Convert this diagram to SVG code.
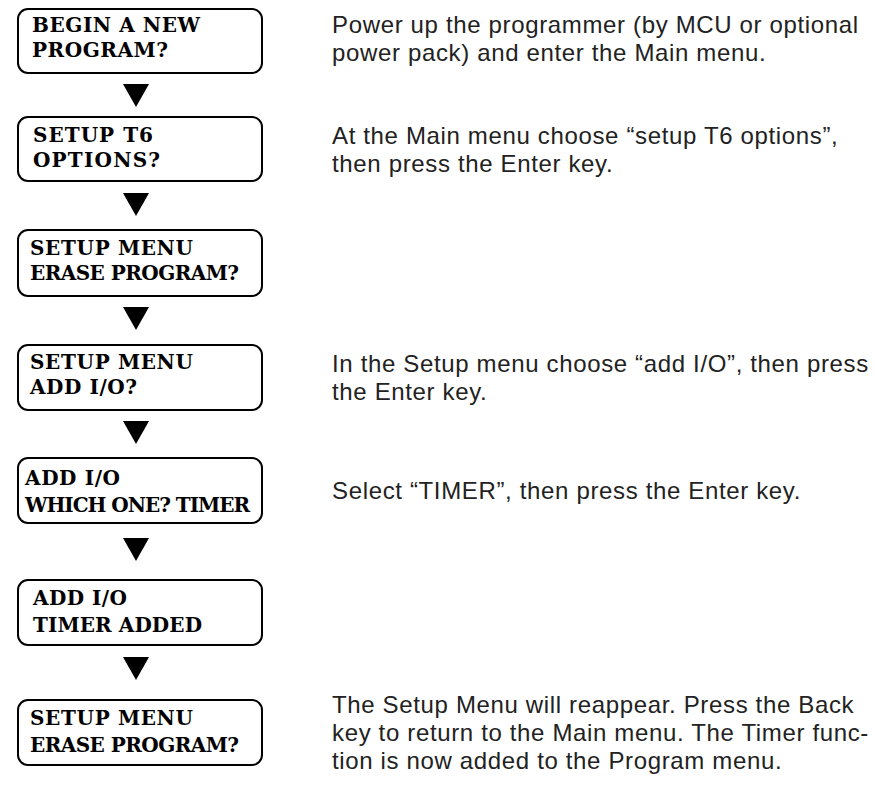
<svg xmlns="http://www.w3.org/2000/svg" width="875" height="786" viewBox="0 0 875 786">
<defs>
<style>
.box{fill:#fff;stroke:#000;stroke-width:2}
.lcd{font-family:"DejaVu Serif","Liberation Serif",serif;font-weight:bold;font-size:20px;fill:#000}
.desc{font-family:"Liberation Sans",Arial,sans-serif;font-size:24px;letter-spacing:0.65px;fill:#222}
.arr{fill:#000}
</style>
</defs>
<rect width="875" height="786" fill="#fff"/>
<g id="connectors">
<polygon class="arr" points="123,84 149,84 136,107"/>
<polygon class="arr" points="123,193 149,193 136,216"/>
<polygon class="arr" points="123,307 149,307 136,330"/>
<polygon class="arr" points="123,421 149,421 136,444"/>
<polygon class="arr" points="123,538 149,538 136,561"/>
<polygon class="arr" points="123,657 149,657 136,680"/>
</g>
<g id="n1"><rect class="box" x="18" y="9" width="244" height="64" rx="10"/>
<text class="lcd" x="32" y="32" textLength="168" lengthAdjust="spacing">BEGIN A NEW</text><text class="lcd" x="32" y="57" textLength="136" lengthAdjust="spacing">PROGRAM?</text></g>
<g id="n2"><rect class="box" x="18" y="117" width="244" height="64" rx="10"/>
<text class="lcd" x="33" y="142" textLength="120" lengthAdjust="spacing">SETUP T6</text><text class="lcd" x="33" y="167" textLength="127" lengthAdjust="spacing">OPTIONS?</text></g>
<g id="n3"><rect class="box" x="18" y="230" width="244" height="66" rx="10"/>
<text class="lcd" x="30" y="255" textLength="163" lengthAdjust="spacing">SETUP MENU</text><text class="lcd" x="30" y="280" textLength="209" lengthAdjust="spacing">ERASE PROGRAM?</text></g>
<g id="n4"><rect class="box" x="18" y="345" width="244" height="65" rx="10"/>
<text class="lcd" x="30" y="369" textLength="163" lengthAdjust="spacing">SETUP MENU</text><text class="lcd" x="30" y="394" textLength="107" lengthAdjust="spacing">ADD I/O?</text></g>
<g id="n5"><rect class="box" x="18" y="458" width="244" height="65" rx="10"/>
<text class="lcd" x="25" y="485" textLength="95" lengthAdjust="spacing">ADD I/O</text><text class="lcd" x="25" y="512" textLength="225" lengthAdjust="spacing">WHICH ONE? TIMER</text></g>
<g id="n6"><rect class="box" x="18" y="580" width="244" height="65" rx="10"/>
<text class="lcd" x="33" y="605" textLength="94" lengthAdjust="spacing">ADD I/O</text><text class="lcd" x="33" y="632" textLength="169" lengthAdjust="spacing">TIMER ADDED</text></g>
<g id="n7"><rect class="box" x="18" y="700" width="244" height="65" rx="10"/>
<text class="lcd" x="30" y="725" textLength="163" lengthAdjust="spacing">SETUP MENU</text><text class="lcd" x="30" y="752" textLength="209" lengthAdjust="spacing">ERASE PROGRAM?</text></g>
<g id="descriptions">
<text class="desc" x="332" y="33">Power up the programmer (by MCU or optional</text>
<text class="desc" x="332" y="61">power pack) and enter the Main menu.</text>
<text class="desc" x="332" y="144">At the Main menu choose “setup T6 options”,</text>
<text class="desc" x="332" y="172">then press the Enter key.</text>
<text class="desc" x="332" y="372">In the Setup menu choose “add I/O”, then press</text>
<text class="desc" x="332" y="400">the Enter key.</text>
<text class="desc" x="332" y="499">Select “TIMER”, then press the Enter key.</text>
<text class="desc" x="332" y="713">The Setup Menu will reappear. Press the Back</text>
<text class="desc" x="332" y="741">key to return to the Main menu. The Timer func-</text>
<text class="desc" x="332" y="769">tion is now added to the Program menu.</text>
</g>
</svg>
